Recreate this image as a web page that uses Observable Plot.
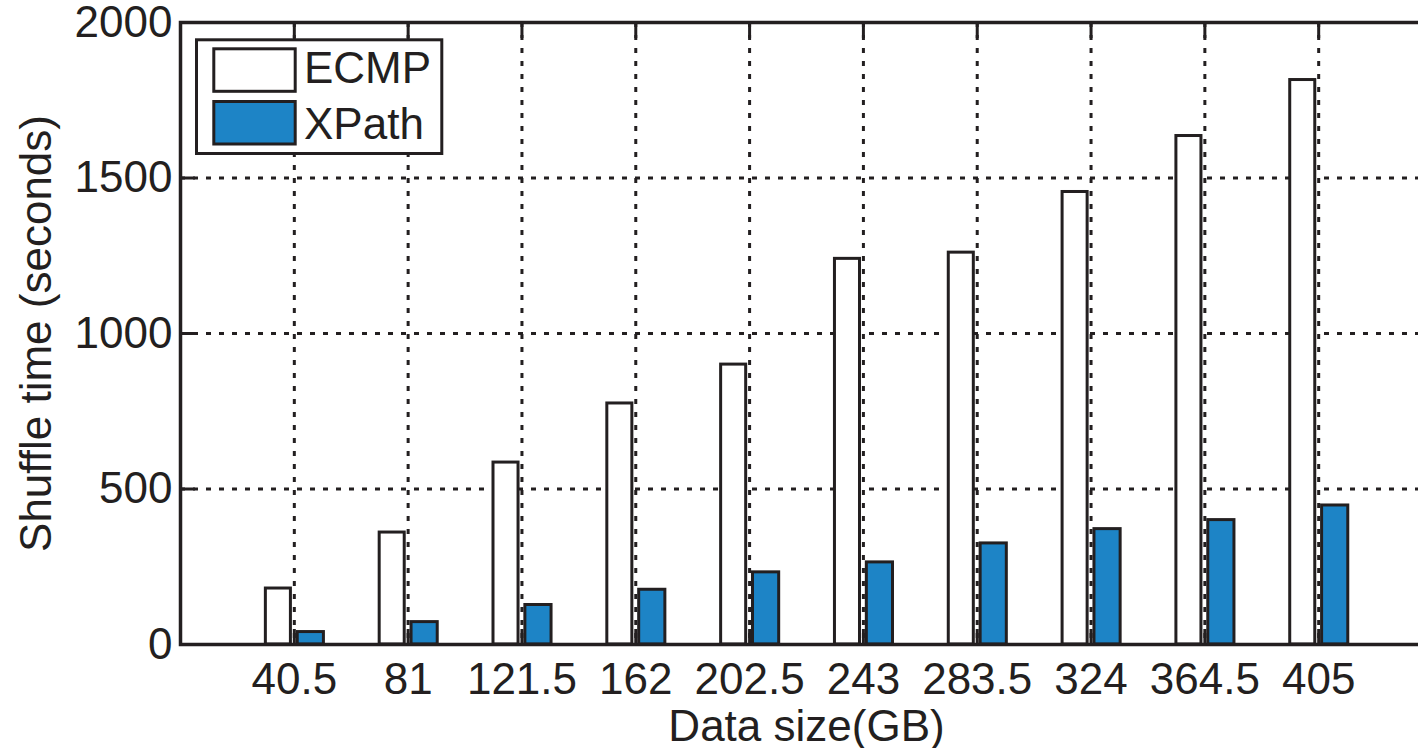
<!DOCTYPE html>
<html>
<head>
<meta charset="utf-8">
<script src="https://cdn.jsdelivr.net/npm/d3@7"></script>
<script src="https://cdn.jsdelivr.net/npm/@observablehq/plot@0.6"></script>
<style>
html, body { margin: 0; padding: 0; background: #fff; overflow: hidden; width: 1418px; height: 748px; }
#wrap { position: relative; width: 1418px; height: 748px; overflow: hidden; }
#wrap svg { max-width: none !important; }
#legend { position: absolute; left: 0; top: 0; pointer-events: none; }
</style>
</head>
<body>
<div id="wrap"></div>
<script>
// ---- data ----
const sizes = ["40.5", "81", "121.5", "162", "202.5", "243", "283.5", "324", "364.5", "405"];
const series = ["ECMP", "XPath"];
const ecmp = [180, 360, 585, 775, 900, 1240, 1260, 1455, 1635, 1815];
const xpath = [40, 72, 127, 176, 232, 264, 325, 371, 400, 447];
const yTicks = [0, 500, 1000, 1500, 2000];
const xLabel = "Data size(GB)";
const yLabel = "Shuffle time (seconds)";

// ---- styles ----
const ink = "#231f20";
const fills = ["#ffffff", "#1d84c6"];
const font = "'Liberation Sans', Arial, Helvetica, sans-serif";
const offsets = [[-0.25, -0.03], [0.03, 0.26]];

const rows = [];
[ecmp, xpath].forEach((vals, s) => {
  vals.forEach((v, i) => rows.push({i: i + 1, series: series[s], s, value: v}));
});
const idx = sizes.map((_, i) => i + 1);

const grid = {stroke: ink, strokeOpacity: 1, strokeWidth: 3, strokeDasharray: "5,8"};

const chart = Plot.plot({
  width: 1440,
  height: 748,
  marginLeft: 180,
  marginRight: 8,
  marginTop: 22,
  marginBottom: 104,
  style: {fontFamily: font, fontSize: "44px", color: ink, background: "transparent", overflow: "visible", maxWidth: "none"},
  x: {domain: [0, 11], ticks: idx, tickFormat: i => sizes[i - 1], label: null},
  y: {domain: [0, 2000], ticks: yTicks, tickFormat: d => String(d), label: null},
  marks: [
    Plot.gridX(idx, {...grid}),
    Plot.gridY([500, 1000, 1500], {...grid}),
    Plot.rect(rows, {
      x1: d => d.i + offsets[d.s][0],
      x2: d => d.i + offsets[d.s][1],
      y1: 0,
      y2: "value",
      fill: d => fills[d.s],
      stroke: ink,
      strokeWidth: 3
    }),
    // inward ticks on all four sides
    Plot.axisY(yTicks, {anchor: "left", tickSize: 15, dx: 15, text: null, label: null, stroke: ink, strokeWidth: 3}),
    Plot.axisY(yTicks, {anchor: "right", tickSize: 15, dx: -15, text: null, label: null, stroke: ink, strokeWidth: 3}),
    Plot.axisX(idx, {anchor: "top", tickSize: 15, dy: 15, text: null, label: null, stroke: ink, strokeWidth: 3}),
    Plot.axisX(idx, {anchor: "bottom", tickSize: 15, dy: -15, text: null, label: null, stroke: ink, strokeWidth: 3}),
    // tick labels
    Plot.axisY(yTicks, {anchor: "left", tickSize: 0, tickPadding: 8, label: null, fontSize: 44, fill: ink, tickFormat: d => String(d)}),
    Plot.axisX(idx, {anchor: "bottom", tickSize: 0, tickPadding: 18, label: null, fontSize: 44, fill: ink, tickFormat: i => sizes[i - 1]}),
    Plot.frame({stroke: ink, strokeWidth: 3.5}),
    // axis titles
    Plot.text([xLabel], {frameAnchor: "bottom", text: d => d, textAnchor: "middle", lineAnchor: "bottom", dy: 96, fontSize: 44, fill: ink}),
    Plot.text([yLabel], {frameAnchor: "left", text: d => d, textAnchor: "middle", rotate: -90, lineAnchor: "bottom", dx: -130, fontSize: 44, fill: ink})
  ]
});
document.getElementById("wrap").appendChild(chart);

// ---- legend (inside plot, top-left) ----
const leg = d3.select("#wrap").append("svg")
  .attr("id", "legend").attr("width", 1418).attr("height", 748);
leg.append("rect")
  .attr("x", 196.5).attr("y", 39.8).attr("width", 245.3).attr("height", 113.7)
  .attr("fill", "#fff").attr("stroke", ink).attr("stroke-width", 3);
series.forEach((name, s) => {
  const top = s === 0 ? 48.8 : 101.5;
  leg.append("rect")
    .attr("x", 213.8).attr("y", top).attr("width", 81.4).attr("height", 42.5)
    .attr("fill", fills[s]).attr("stroke", ink).attr("stroke-width", 3);
  leg.append("text")
    .attr("x", 304).attr("y", s === 0 ? 83.3 : 139)
    .attr("font-family", font).attr("font-size", 44).attr("fill", ink)
    .text(name);
});
</script>
</body>
</html>
